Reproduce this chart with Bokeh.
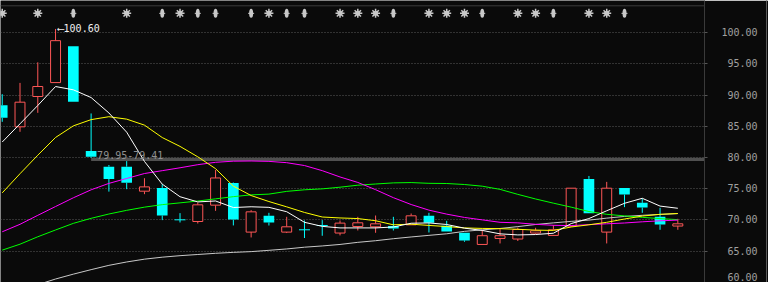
import numpy as np
from bokeh.plotting import figure
from bokeh.models import Range1d, LinearAxis, FixedTicker, CustomJSTickFormatter, Span
from bokeh.core.properties import value
from bokeh.embed import file_html
from bokeh.resources import INLINE

# ---------------- data ----------------
opens = [88.38, 84.91, 89.77, 92.00, 97.81, 81.03, 78.52, 78.52, 74.59, 75.12,
         70.00, 69.73, 72.35, 75.92, 68.03, 70.64, 68.03, 68.40, 69.09, 67.88,
         68.93, 68.88, 69.00, 69.20, 70.64, 69.04, 67.92, 66.05, 67.01, 66.92,
         67.88, 67.50, 69.00, 76.56, 68.03, 75.12, 72.72, 70.48, 69.00]
highs = [90.14, 91.95, 95.25, 100.60, 97.81, 87.05, 78.79, 79.41, 76.67, 75.71,
         71.07, 72.77, 77.99, 76.00, 71.55, 71.12, 70.48, 69.89, 69.95, 69.89,
         70.48, 70.69, 70.48, 71.01, 71.12, 69.84, 67.92, 68.40, 68.51, 68.75,
         68.72, 69.15, 75.07, 77.03, 76.08, 75.12, 73.41, 71.92, 70.16]
lows = [85.71, 84.11, 87.15, 92.00, 88.91, 79.95, 74.52, 74.91, 74.11, 69.95,
        69.57, 69.41, 71.44, 69.10, 67.17, 69.09, 67.88, 67.08, 67.44, 67.50,
        68.29, 67.92, 68.29, 69.20, 67.97, 68.13, 66.48, 66.05, 66.21, 66.60,
        67.77, 67.50, 68.90, 71.07, 66.21, 72.03, 71.12, 68.40, 68.40]
closes = [86.35, 88.86, 91.37, 98.72, 88.91, 80.12, 76.55, 75.96, 75.28, 70.69,
          70.00, 72.40, 76.71, 70.05, 71.28, 69.57, 68.88, 68.40, 69.09, 69.47,
          69.52, 69.36, 68.60, 70.64, 69.52, 68.13, 66.69, 67.45, 67.45, 68.45,
          68.24, 68.40, 75.07, 71.07, 75.07, 74.05, 71.97, 69.25, 69.36]

ma5 = [82.47, 85.39, 88.33, 91.37, 90.84, 89.60, 87.13, 84.05, 79.36, 75.72,
       73.70, 72.87, 73.02, 71.97, 72.09, 72.00, 71.30, 69.60, 68.95, 68.70,
       68.70, 68.70, 68.85, 69.45, 69.50, 69.25, 68.66, 68.30, 67.75, 67.58,
       67.64, 67.85, 69.40, 70.20, 71.45, 72.65, 73.45, 72.20, 71.85]
ma10 = [74.32, 77.39, 80.36, 83.20, 85.06, 86.06, 86.53, 86.14, 85.18, 83.19,
        81.77, 80.10, 78.20, 75.40, 73.89, 72.93, 72.08, 71.18, 70.45, 70.30,
        70.20, 69.85, 69.20, 69.30, 69.10, 68.92, 68.70, 68.62, 68.58, 68.48,
        68.35, 68.30, 68.85, 69.20, 69.60, 70.13, 70.60, 70.88, 71.01]
ma20 = [68.08, 69.28, 70.72, 72.13, 73.53, 74.81, 75.84, 76.63, 77.42, 77.88,
        78.34, 78.84, 79.22, 79.40, 79.43, 79.37, 79.16, 78.70, 77.88, 76.87,
        75.99, 74.83, 73.55, 72.45, 71.55, 70.91, 70.38, 69.99, 69.60, 69.51,
        69.28, 69.12, 69.07, 69.23, 69.36, 69.49, 69.68, 69.84, 69.95]
ma30 = [65.14, 66.09, 67.28, 68.37, 69.43, 70.24, 70.93, 71.52, 72.03, 72.43,
        72.72, 73.01, 73.36, 73.71, 74.00, 74.12, 74.56, 74.81, 74.96, 75.23,
        75.55, 75.74, 75.92, 75.97, 75.85, 75.82, 75.66, 75.39, 74.88, 74.08,
        73.34, 72.67, 72.03, 71.33, 70.88, 70.63, 70.40, 70.19, 70.03]
ma60 = [57.80, 58.80, 59.60, 60.51, 61.29, 62.01, 62.70, 63.24, 63.69, 64.01,
        64.25, 64.44, 64.63, 64.78, 64.90, 65.11, 65.33, 65.61, 65.81, 66.05,
        66.39, 66.65, 66.97, 67.25, 67.51, 67.76, 68.15, 68.39, 68.61, 68.91,
        69.25, 69.51, 69.75, 69.95, 70.27, 70.54, 70.72, 70.86, 71.00]

star_idx = [0, 2, 7, 10, 15, 19, 20, 21, 24, 25, 26, 29, 30, 33, 34]
capsule_idx = [4, 9, 11, 12, 14, 16, 17, 22, 27, 31, 35]

gap_start = 5
gap_top = 79.95
gap_bottom = 79.41

y_ticks = [60, 65, 70, 75, 80, 85, 90, 95, 100]

# ---------------- styles ----------------
BG = "#0a0a0a"
RED = "#ff5757"
CYAN = "#00ffff"
SIG = "#c8c8c8"
MONO = "DejaVu Sans Mono"
signal_y = 103.1
top_rule_y = 104.31

n = len(closes)
xs = list(range(n))

p = figure(width=768, height=282,
           x_range=Range1d(-0.097, 39.50), y_range=Range1d(59.95, 105.16),
           output_backend="svg", toolbar_location=None,
           x_axis_location=None, y_axis_location="right",
           min_border_left=0, min_border_top=0, min_border_bottom=0, min_border_right=64,
           background_fill_color=BG, border_fill_color=BG, outline_line_color=None)

p.xgrid.visible = False
p.ygrid.ticker = FixedTicker(ticks=y_ticks)
p.ygrid.grid_line_color = "#5a5a5a"
p.ygrid.grid_line_dash = "1 2"

ax = p.yaxis[0]
ax.ticker = FixedTicker(ticks=y_ticks)
ax.formatter = CustomJSTickFormatter(
    code="const s = tick.toFixed(2); return (s.length < 6 ? '\\u00a0' : '') + s + '\\u00a0';")
ax.major_label_text_font = MONO
ax.major_label_text_font_size = "10px"
ax.major_label_text_color = "#a0a0a0"
ax.major_tick_out = 3
ax.major_tick_in = 0
ax.major_tick_line_color = "#555555"
ax.minor_tick_out = 0
ax.minor_tick_in = 0
ax.axis_line_color = "#3a3a3a"
ax.major_label_standoff = 14

ax2 = LinearAxis(ticker=FixedTicker(ticks=[]), major_tick_out=0, major_tick_in=0,
                 minor_tick_out=0, minor_tick_in=0, major_label_text_font_size="0px",
                 major_label_standoff=0, axis_line_color="#5a5a5a")
p.add_layout(ax2, "right")

# top separator
p.add_layout(Span(location=top_rule_y, dimension="width", line_color="#3a3a3a", line_width=1))

# gap band
p.quad(left=[gap_start], right=[p.x_range.end], bottom=[gap_bottom], top=[gap_top],
       fill_color="#505050", line_color=None)

# candles
body_top = [max(o, c) for o, c in zip(opens, closes)]
body_bot = [min(o, c) for o, c in zip(opens, closes)]
up = [c > o for o, c in zip(opens, closes)]
doji = [c == o for o, c in zip(opens, closes)]

ux = [x for x, u in zip(xs, up) if u]
dx = [x for x, u, d in zip(xs, up, doji) if not u and not d]
jx = [x for x, d in zip(xs, doji) if d]

def pick(arr, idx):
    return [arr[i] for i in idx]

wick_col = [RED if u else CYAN for u in up]
p.segment(x0=xs, y0=highs, x1=xs, y1=body_top, line_color=wick_col, line_width=1)
p.segment(x0=xs, y0=body_bot, x1=xs, y1=lows, line_color=wick_col, line_width=1)

p.vbar(x=dx, top=pick(body_top, dx), bottom=pick(body_bot, dx), width=0.6,
       fill_color=CYAN, line_color=None)
p.vbar(x=ux, top=pick(body_top, ux), bottom=pick(body_bot, ux), width=0.56,
       fill_color=BG, line_color=RED, line_width=1)
p.scatter(x=jx, y=pick(closes, jx), marker="dash", size=11, line_color=CYAN, line_width=1)

# moving averages
p.line(xs, ma60, line_color="#c8c8c8", line_width=1)
p.line(xs, ma30, line_color="#00ff00", line_width=1)
p.line(xs, ma20, line_color="#ff00ff", line_width=1)
p.line(xs, ma10, line_color="#ffff00", line_width=1)
p.line(xs, ma5, line_color="#ffffff", line_width=1)

# signal row
p.scatter(x=star_idx, y=[signal_y] * len(star_idx), marker="asterisk", size=9,
          line_color=SIG, line_width=1.5)
p.scatter(x=star_idx, y=[signal_y] * len(star_idx), marker="circle", size=5,
          fill_color=SIG, line_color=None)
p.ellipse(x=capsule_idx, y=[signal_y] * len(capsule_idx), width=4, height=9,
          width_units="screen", height_units="screen", fill_color=SIG, line_color=None)
p.scatter(x=capsule_idx, y=[signal_y] * len(capsule_idx), marker="dash", size=6,
          line_color=SIG, line_width=1)

# labels
k_max = int(np.argmax(highs))
p.text(x=[k_max], y=[highs[k_max]], text=["\u27f5" + f"{highs[k_max]:.2f}"],
       text_font=value(MONO), text_font_size="10px", text_color="#f0f0f0",
       text_baseline="middle", text_align="left", x_offset=2)
p.text(x=[gap_start], y=[gap_top], text=[f"{gap_top:.2f}-{gap_bottom:.2f}"],
       text_font=value(MONO), text_font_size="10px", text_color="#909090",
       text_baseline="alphabetic", text_align="left", x_offset=6, y_offset=-3)

open("out.html", "w").write(file_html(p, INLINE))
